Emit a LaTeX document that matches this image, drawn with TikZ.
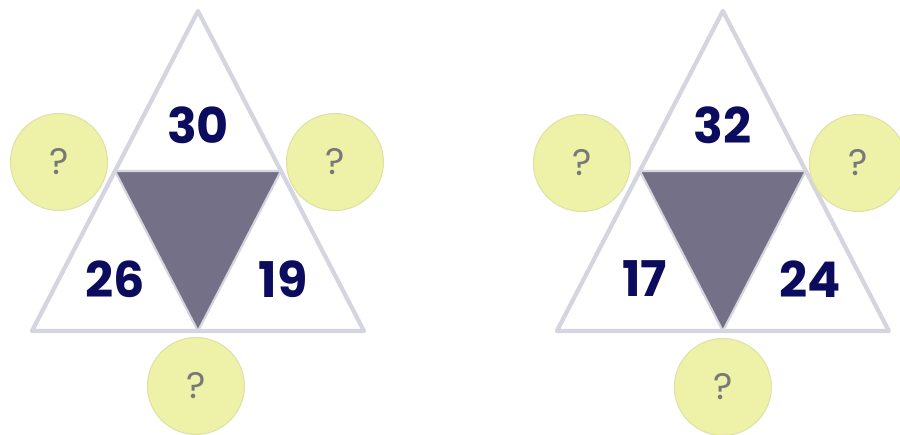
\documentclass[tikz,border=0pt]{standalone}
\usepackage{fontspec}
\setmainfont{Poppins}
\usetikzlibrary{calc}
\definecolor{edgegray}{HTML}{D4D5DE}
\definecolor{midtri}{HTML}{747088}
\definecolor{ballfill}{HTML}{EEF1A8}
\definecolor{balledge}{HTML}{E0E1A4}
\definecolor{numblue}{HTML}{0C0C5E}
\definecolor{qgray}{HTML}{787878}

\begin{document}
\begin{tikzpicture}[x=0.02cm, y=-0.02cm,
	num/.style={font=\fontsize{28}{28}\selectfont\bfseries, text=numblue},
	ball/.style={draw=balledge, line width=0.6pt, circle, fill=ballfill, minimum size=1.94cm, inner sep=0pt, font=\fontsize{21}{21}\selectfont, text=qgray},
	outer/.style={draw=edgegray, line width=2.4pt, line join=round, fill=white},
	inner/.style={draw=edgegray, line width=1.2pt, line join=round, fill=midtri}]
	\useasboundingbox (0,0) rectangle (900,435);
	\begin{scope}[xshift=3.96cm]
		\coordinate (T) at (0,11); \coordinate (L) at (-166,331); \coordinate (R) at (166,331);
		\draw[outer] (T) -- (L) -- (R) -- cycle;
		\draw[inner] ($(T)!0.5!(L)$) -- ($(T)!0.5!(R)$) -- ($(L)!0.5!(R)$) -- cycle;
		\node[num] (n30) at (0,125) {30};
		\node[num] (n26) at (-83,279) {26};
		\node[num] (n19) at (85,279) {19};
		\node[ball] (qL) at (-139,162) {?}; \node[ball] (qR) at (137,162) {?}; \node[ball] (qB) at (-2,386) {?};
	\end{scope}
	\begin{scope}[xshift=14.46cm]
		\coordinate (T) at (0,11); \coordinate (L) at (-166,331); \coordinate (R) at (166,331);
		\draw[outer] (T) -- (L) -- (R) -- cycle;
		\draw[inner] ($(T)!0.5!(L)$) -- ($(T)!0.5!(R)$) -- ($(L)!0.5!(R)$) -- cycle;
		\node[num] (n32) at (0,125) {32};
		\node[num] (n17) at (-78,279) {17};
		\node[num] (n24) at (87,279) {24};
		\node[ball] (pL) at (-141,163) {?}; \node[ball] (pR) at (135,163) {?}; \node[ball] (pB) at (0,387) {?};
	\end{scope}
\end{tikzpicture}
\end{document}
